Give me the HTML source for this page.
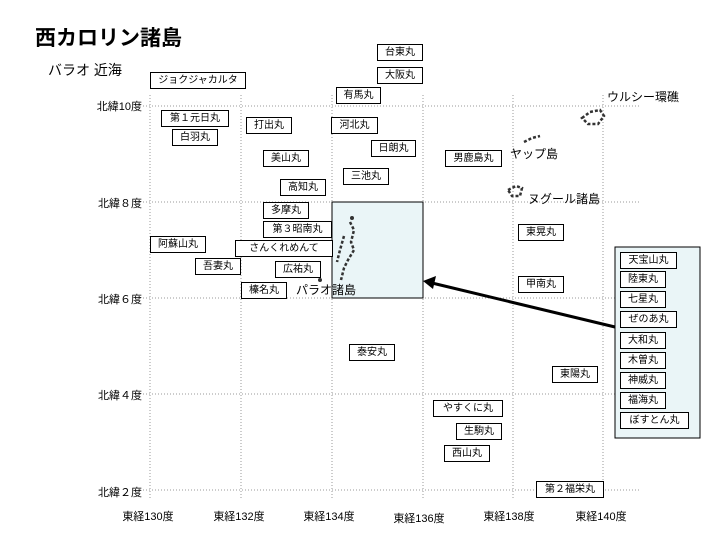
<!DOCTYPE html><html><head><meta charset="utf-8"><style>
body{margin:0;width:720px;height:540px;background:#fff;position:relative;overflow:hidden;font-family:"Liberation Sans","Noto Sans CJK JP",sans-serif;}
.b{position:absolute;border:1px solid #000;background:#fff;font-size:10px;line-height:15px;text-align:center;height:15px;box-sizing:content-box;}
.t{position:absolute;font-size:11px;white-space:nowrap;}
.yl{position:absolute;font-size:11px;width:100px;text-align:right;left:42px;}
.xl{position:absolute;font-size:11px;width:80px;text-align:center;top:508px;}
</style></head><body>
<svg width="720" height="540" style="position:absolute;left:0;top:0">
<g stroke="#999" stroke-width="1" stroke-dasharray="1,2">
<line x1="140" y1="106" x2="640" y2="106"/><line x1="140" y1="202" x2="640" y2="202"/><line x1="140" y1="298" x2="640" y2="298"/><line x1="140" y1="394" x2="640" y2="394"/><line x1="140" y1="490" x2="640" y2="490"/>
<line x1="150" y1="95" x2="150" y2="500"/><line x1="241" y1="95" x2="241" y2="500"/><line x1="332" y1="95" x2="332" y2="500"/><line x1="423" y1="95" x2="423" y2="500"/><line x1="513" y1="95" x2="513" y2="500"/><line x1="603" y1="95" x2="603" y2="500"/>
</g>
<rect x="332" y="202" width="91" height="96" fill="#eaf5f7" stroke="#000"/>
<rect x="615" y="247" width="85" height="191" fill="#eaf5f7" stroke="#000"/>
<line x1="615" y1="327" x2="432" y2="283" stroke="#000" stroke-width="3"/>
<polygon points="423,281 436,276 433,289" fill="#000"/>
<g fill="none" stroke="#333" stroke-width="2.5" stroke-dasharray="3,2">
<path d="M350 222 l4 8 l-3 12 l3 8 l-6 10 l-4 8 l-3 12"/>
<path d="M344 236 l-4 14 l-3 12"/>
<path d="M582 118 l8 -6 l10 -2 l4 6 l-6 8 l-10 0z"/>
<path d="M524 142 l8 -4 l8 -2"/>
<path d="M508 190 l8 -4 l6 2 l-2 8 l-8 0z"/>
</g>
<g fill="#333"><circle cx="352" cy="218" r="2"/><circle cx="320" cy="280" r="2"/></g>
</svg>
<div class="t" style="left:35px;top:22px;font-size:21px;font-weight:bold">西カロリン諸島</div>
<div class="t" style="left:48px;top:60px;font-size:14px">バラオ 近海</div>
<div class="t" style="left:607px;top:88px;font-size:12px">ウルシー環礁</div>
<div class="t" style="left:510px;top:145px;font-size:12px">ヤップ島</div>
<div class="t" style="left:528px;top:190px;font-size:12px">ヌグール諸島</div>
<div class="t" style="left:296px;top:281px;font-size:12px">パラオ諸島</div>
<div class="yl" style="top:98px">北緯10度</div><div class="yl" style="top:195px">北緯８度</div><div class="yl" style="top:291px">北緯６度</div><div class="yl" style="top:387px">北緯４度</div><div class="yl" style="top:484px">北緯２度</div>
<div class="xl" style="left:108px">東経130度</div><div class="xl" style="left:199px">東経132度</div><div class="xl" style="left:289px">東経134度</div><div class="xl" style="left:379px;top:510px">東経136度</div><div class="xl" style="left:469px">東経138度</div><div class="xl" style="left:561px">東経140度</div>
<div class="b" style="left:377px;top:44px;width:44px">台東丸</div>
<div class="b" style="left:377px;top:67px;width:44px">大阪丸</div>
<div class="b" style="left:150px;top:72px;width:94px">ジョクジャカルタ</div>
<div class="b" style="left:336px;top:87px;width:43px">有馬丸</div>
<div class="b" style="left:161px;top:110px;width:66px">第１元日丸</div>
<div class="b" style="left:172px;top:129px;width:44px">白羽丸</div>
<div class="b" style="left:246px;top:117px;width:44px">打出丸</div>
<div class="b" style="left:331px;top:117px;width:45px">河北丸</div>
<div class="b" style="left:371px;top:140px;width:43px">日朗丸</div>
<div class="b" style="left:445px;top:150px;width:55px">男鹿島丸</div>
<div class="b" style="left:263px;top:150px;width:44px">美山丸</div>
<div class="b" style="left:343px;top:168px;width:44px">三池丸</div>
<div class="b" style="left:280px;top:179px;width:44px">高知丸</div>
<div class="b" style="left:263px;top:202px;width:44px">多摩丸</div>
<div class="b" style="left:263px;top:221px;width:67px">第３昭南丸</div>
<div class="b" style="left:150px;top:236px;width:54px">阿蘇山丸</div>
<div class="b" style="left:235px;top:240px;width:96px">さんくれめんて</div>
<div class="b" style="left:195px;top:258px;width:44px">吾妻丸</div>
<div class="b" style="left:275px;top:261px;width:44px">広祐丸</div>
<div class="b" style="left:241px;top:282px;width:44px">榛名丸</div>
<div class="b" style="left:518px;top:224px;width:44px">東晃丸</div>
<div class="b" style="left:518px;top:276px;width:44px">甲南丸</div>
<div class="b" style="left:349px;top:344px;width:44px">泰安丸</div>
<div class="b" style="left:552px;top:366px;width:44px">東陽丸</div>
<div class="b" style="left:433px;top:400px;width:68px">やすくに丸</div>
<div class="b" style="left:456px;top:423px;width:44px">生駒丸</div>
<div class="b" style="left:444px;top:445px;width:44px">西山丸</div>
<div class="b" style="left:536px;top:481px;width:66px">第２福栄丸</div>
<div class="b" style="left:620px;top:252px;width:55px">天宝山丸</div>
<div class="b" style="left:620px;top:271px;width:44px">陸東丸</div>
<div class="b" style="left:620px;top:291px;width:44px">七星丸</div>
<div class="b" style="left:620px;top:311px;width:55px">ぜのあ丸</div>
<div class="b" style="left:620px;top:332px;width:44px">大和丸</div>
<div class="b" style="left:620px;top:352px;width:44px">木曽丸</div>
<div class="b" style="left:620px;top:372px;width:44px">神威丸</div>
<div class="b" style="left:620px;top:392px;width:44px">福海丸</div>
<div class="b" style="left:620px;top:412px;width:67px">ぼすとん丸</div>
</body></html>
